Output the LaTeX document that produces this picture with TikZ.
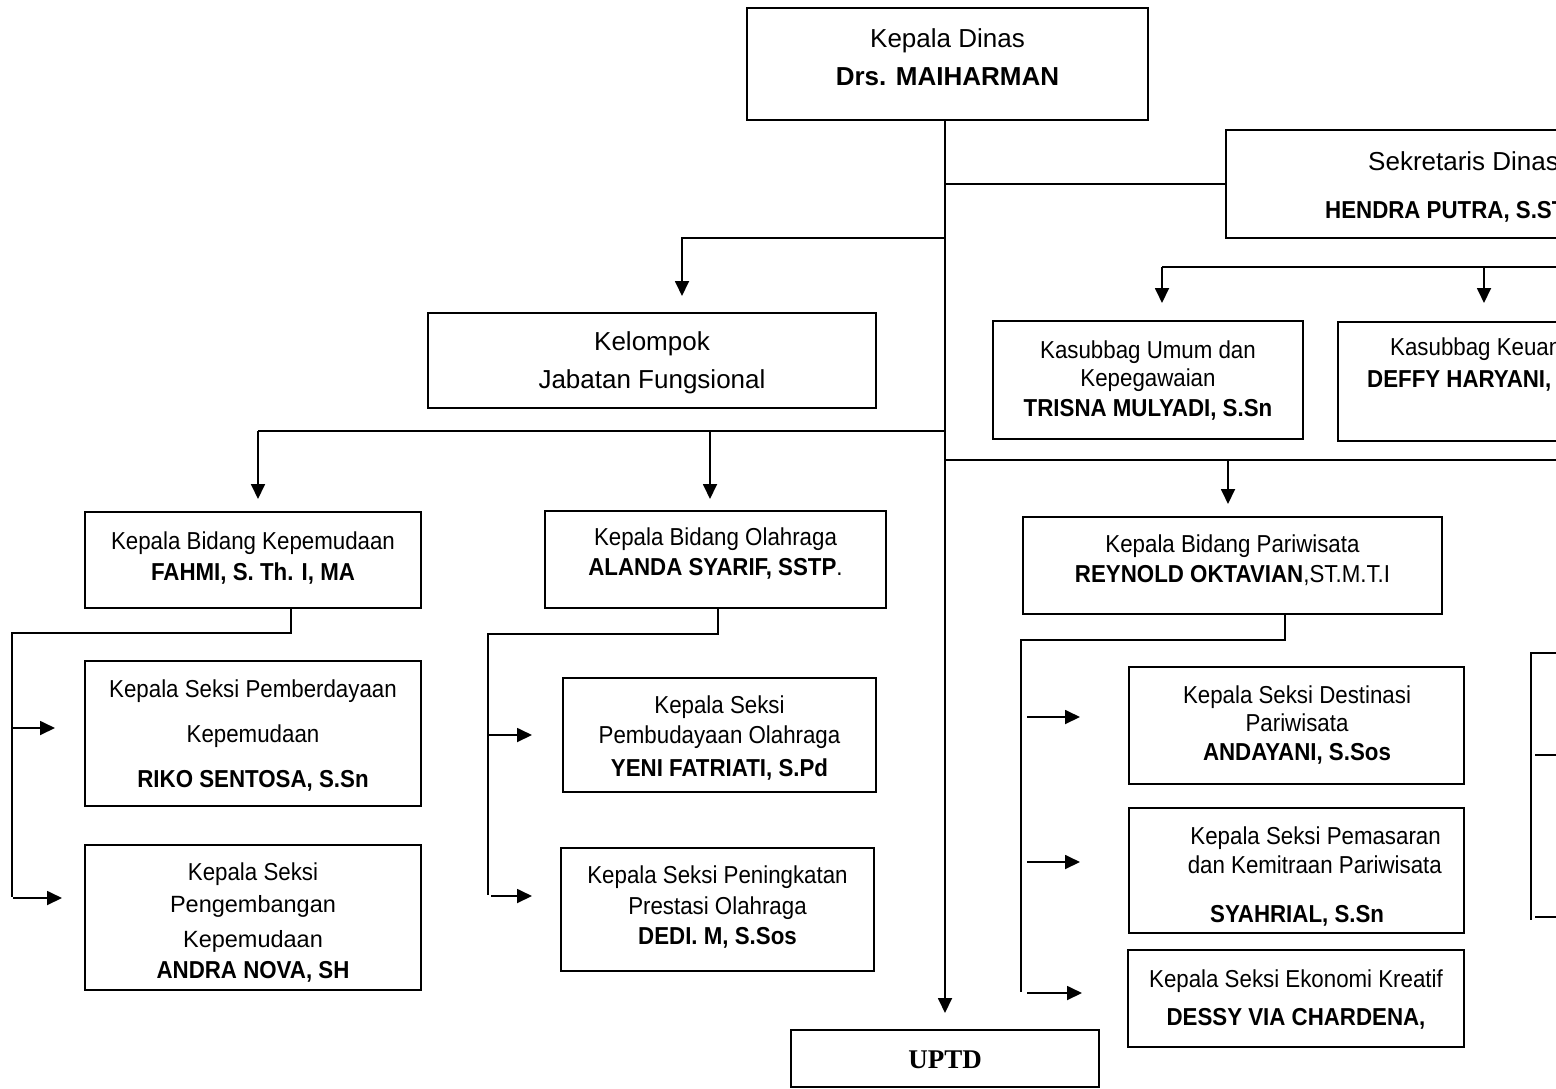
\documentclass[tikz,border=0pt]{standalone}
\usepackage{fontspec}
\setmainfont{Liberation Sans}
\newfontfamily\nrw[FakeStretch=0.91]{Liberation Sans}
\newfontfamily\serifb{Liberation Serif}
\usetikzlibrary{arrows.meta}
\newcommand\fbig{\fontsize{26}{30}\selectfont}
\newcommand\fsm{\nrw\fontsize{24.5}{28}\selectfont}
\newcommand\fmid{\fontsize{23.5}{28}\selectfont}
\tikzset{
  bx/.style={draw, fill=white, line width=1.8pt, inner sep=0pt, outer sep=0pt},
  ln/.style={line width=1.8pt},
  arr/.style={line width=1.8pt, -{Triangle[length=15pt,width=14pt]}},
  t/.style={inner sep=0pt, anchor=base},
  tw/.style={inner sep=0pt, anchor=base west},
  te/.style={inner sep=0pt, anchor=base east}
}
\begin{document}
\begin{tikzpicture}[x=1pt,y=-1pt]
\useasboundingbox (0,0) rectangle (1556,1088);
\fill[white] (0,0) rectangle (1556,1088);
\clip (0,0) rectangle (1556,1088);

% coordinates for connectors
\coordinate (sekBus) at (1620,267);
\coordinate (kumTap) at (1162,267);
\coordinate (kumIn) at (1162,303);
\coordinate (kjfTap) at (945,238);
\coordinate (kjfIn) at (682,296);
\coordinate (busL) at (258,431);
\coordinate (busM) at (945,431);
\coordinate (busRL) at (945,460);
\coordinate (busR) at (1620,460);
\coordinate (bkepIn) at (258,499);
\coordinate (bolaTap) at (710,431);
\coordinate (bolaIn) at (710,499);
\coordinate (bparTap) at (1228,460);
\coordinate (bparIn) at (1228,504);

% boxes
\node[bx, minimum width=401, minimum height=112] (kd) at (947.5,64) {};
\node[bx, minimum width=474, minimum height=108] (sek) at (1463,184) {};
\node[bx, minimum width=448, minimum height=95] (kjf) at (652,360.5) {};
\node[bx, minimum width=310, minimum height=118] (kum) at (1148,380) {};
\node[bx, minimum width=292, minimum height=119] (kkeu) at (1484,381.5) {};
\node[bx, minimum width=336, minimum height=96] (bkep) at (253,560) {};
\node[bx, minimum width=341, minimum height=97] (bola) at (715.5,559.5) {};
\node[bx, minimum width=419, minimum height=97] (bpar) at (1232.5,565.5) {};
\node[bx, minimum width=336, minimum height=145] (spem) at (253,733.5) {};
\node[bx, minimum width=336, minimum height=145] (speng) at (253,917.5) {};
\node[bx, minimum width=313, minimum height=114] (sbud) at (719.5,735) {};
\node[bx, minimum width=313, minimum height=123] (sprest) at (717.5,909.5) {};
\node[bx, minimum width=335, minimum height=117] (sdest) at (1296.5,725.5) {};
\node[bx, minimum width=335, minimum height=125] (spms) at (1296.5,870.5) {};
\node[bx, minimum width=336, minimum height=97] (seko) at (1296,998.5) {};
\node[bx, minimum width=308, minimum height=57] (uptd) at (945,1058.5) {};

% texts
\node[t] (kdT1) at (947.5,47) {\fbig Kepala Dinas};
\node[t] (kdT2) at (947.5,85) {\fbig\bfseries Drs. MAIHARMAN};
\node[tw] (sekT1) at (1368,170) {\fbig Sekretaris Dinas};
\node[tw] (sekT2) at (1325,218) {\fsm\bfseries HENDRA PUTRA, S.ST};
\node[t] (kjfT1) at (652,350) {\fbig Kelompok};
\node[t] (kjfT2) at (652,388) {\fbig Jabatan Fungsional};
\node[t] (kumT1) at (1148,358) {\fsm Kasubbag Umum dan};
\node[t] (kumT2) at (1148,386) {\fsm Kepegawaian};
\node[t] (kumT3) at (1148,416) {\fsm\bfseries TRISNA MULYADI, S.Sn};
\node[tw] (kkeuT1) at (1390,355) {\fsm Kasubbag Keuan};
\node[tw] (kkeuT2) at (1367,387) {\fsm\bfseries DEFFY HARYANI, S};
\node[t] (bkepT1) at (253,549) {\fsm Kepala Bidang Kepemudaan};
\node[t] (bkepT2) at (253,580) {\fsm\bfseries FAHMI, S. Th. I, MA};
\node[t] (bolaT1) at (715.5,545) {\fsm Kepala Bidang Olahraga};
\node[t] (bolaT2) at (715.5,575) {\fsm{\bfseries ALANDA SYARIF, SSTP}.};
\node[t] (bparT1) at (1232.5,552) {\fsm Kepala Bidang Pariwisata};
\node[t] (bparT2) at (1232.5,582) {\fsm{\bfseries REYNOLD OKTAVIAN},ST.M.T.I};
\node[t] (spemT1) at (253,697) {\fsm Kepala Seksi Pemberdayaan};
\node[t] (spemT2) at (253,742) {\fsm Kepemudaan};
\node[t] (spemT3) at (253,787) {\fsm\bfseries RIKO SENTOSA, S.Sn};
\node[t] (spengT1) at (253,880) {\fsm Kepala Seksi};
\node[t] (spengT2) at (253,912) {\fmid Pengembangan};
\node[t] (spengT3) at (253,947) {\fmid Kepemudaan};
\node[t] (spengT4) at (253,978) {\fsm\bfseries ANDRA NOVA, SH};
\node[t] (sbudT1) at (719.5,713) {\fsm Kepala Seksi};
\node[t] (sbudT2) at (719.5,743) {\fsm Pembudayaan Olahraga};
\node[t] (sbudT3) at (719.5,776) {\fsm\bfseries YENI FATRIATI, S.Pd};
\node[t] (sprestT1) at (717.5,883) {\fsm Kepala Seksi Peningkatan};
\node[t] (sprestT2) at (717.5,914) {\fsm Prestasi Olahraga};
\node[t] (sprestT3) at (717.5,944) {\fsm\bfseries DEDI. M, S.Sos};
\node[t] (sdestT1) at (1297,703) {\fsm Kepala Seksi Destinasi};
\node[t] (sdestT2) at (1297,731) {\fsm Pariwisata};
\node[t] (sdestT3) at (1297,760) {\fsm\bfseries ANDAYANI, S.Sos};
\node[te] (spmsT1) at (1441,844) {\fsm Kepala Seksi Pemasaran};
\node[te] (spmsT2) at (1442,873) {\fsm dan Kemitraan Pariwisata};
\node[tw] (spmsT3) at (1210,922) {\fsm\bfseries SYAHRIAL, S.Sn};
\node[t] (sekoT1) at (1296,987) {\fsm Kepala Seksi Ekonomi Kreatif};
\node[t] (sekoT2) at (1296,1025) {\fsm\bfseries DESSY VIA CHARDENA,};
\node[t] (uptdT) at (945,1068) {\serifb\fontsize{27}{30}\selectfont\bfseries UPTD};

% main trunk
\draw[arr] (kd.south -| uptd.north) -- ([yshift=17pt]uptd.north);
\draw[ln] (sek.west -| uptd.north) -- (sek.west);

% sekretaris branches
\draw[ln] (kumTap) -- (sekBus);
\draw[arr] (kumTap) -- (kumIn);
\draw[arr] (kkeu.north |- sekBus) -- ([yshift=19pt]kkeu.north);

% kelompok jabatan fungsional
\draw[arr] (kjfTap) -| (kjfIn);

% bidang buses and arrows
\draw[ln] (busL) -- (busM);
\draw[ln] (busRL) -- (busR);
\draw[arr] (busL) -- (bkepIn);
\draw[arr] (bolaTap) -- (bolaIn);
\draw[arr] (bparTap) -- (bparIn);

% kepemudaan seksi
\coordinate (bkepOut) at (291,608);
\coordinate (lTop) at (12,633);
\coordinate (lBot) at (12,897);
\coordinate (lA1) at (12,728);
\coordinate (lA2) at (13,898);
\draw[ln] (bkepOut) |- (lTop) -- (lBot);
\draw[arr] (lA1) -- ++(43,0);
\draw[arr] (lA2) -- ++(49,0);

% olahraga seksi
\coordinate (bolaOut) at (718,608);
\coordinate (mTop) at (488,634);
\coordinate (mBot) at (488,895);
\coordinate (mA1) at (488,735);
\coordinate (mA2) at (491,896);
\draw[ln] (bolaOut) |- (mTop) -- (mBot);
\draw[arr] (mA1) -- ++(44,0);
\draw[arr] (mA2) -- ++(41,0);

% pariwisata seksi
\coordinate (bparOut) at (1285,614);
\coordinate (rTop) at (1021,640);
\coordinate (rBot) at (1021,992);
\coordinate (rA1) at (1027,717);
\coordinate (rA2) at (1027,862);
\coordinate (rA3) at (1027,993);
\draw[ln] (bparOut) |- (rTop) -- (rBot);
\draw[arr] (rA1) -- ++(53,0);
\draw[arr] (rA2) -- ++(53,0);
\draw[arr] (rA3) -- ++(55,0);

% far right partial group
\coordinate (fTop) at (1620,653);
\coordinate (fCorner) at (1531,653);
\coordinate (fBot) at (1531,920);
\coordinate (fA1) at (1535,755);
\coordinate (fA2) at (1535,917);
\draw[ln] (fTop) -- (fCorner) -- (fBot);
\draw[arr] (fA1) -- ++(50,0);
\draw[arr] (fA2) -- ++(50,0);
\end{tikzpicture}
\end{document}
